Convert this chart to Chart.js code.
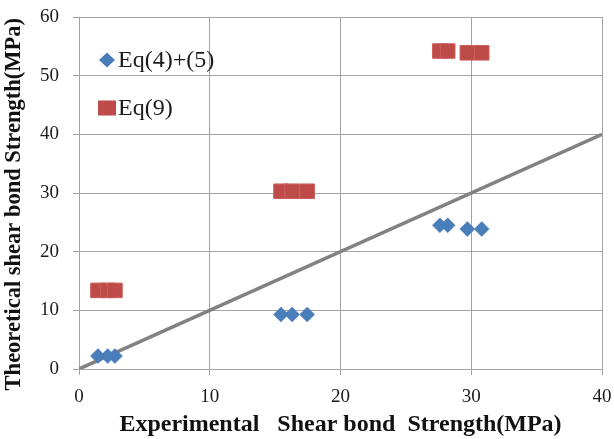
<!DOCTYPE html>
<html>
<head>
    <title>Shear bond strength</title>
    <script src="https://cdn.jsdelivr.net/npm/chart.js"></script>
    <style>
        html, body { margin: 0; padding: 0; background: #fff; }
        #wrap { width: 614px; height: 439px; }
    </style>
</head>
<body>
<div id="wrap"><canvas id="myChart" width="614" height="439"></canvas></div>

<script>
// experimental strength (MPa), same specimens for both equations
var experimental = [1.45, 2.2, 2.75, 15.45, 16.3, 17.45, 27.6, 28.2, 29.7, 30.8];
var eq45 = [2.2, 2.2, 2.2, 9.3, 9.3, 9.3, 24.5, 24.5, 23.85, 23.85];
var eq9 = [13.4, 13.4, 13.4, 30.3, 30.3, 30.3, 54.2, 54.2, 53.9, 53.9];
// y = x reference line
var equalityLine = [0, 40];
var xTicks = [0, 10, 20, 30, 40];
var yTicks = [0, 10, 20, 30, 40, 50, 60];
var seriesNames = ['Eq(4)+(5)', 'Eq(9)'];

var serif = "'Liberation Serif', 'Times New Roman', serif";
var blue = '#4a7ebb';
var red = '#be4b48';
var gridGray = '#a3a3a3';

function pairs(xs, ys) {
    return xs.map(function (x, i) { return { x: x, y: ys[i] }; });
}

// legend drawn inside the plot, top left
var innerLegend = {
    id: 'innerLegend',
    afterDatasetsDraw: function (chart) {
        var ctx = chart.ctx;
        var a = chart.chartArea;
        ctx.save();
        ctx.font = '24px ' + serif;
        ctx.textBaseline = 'middle';
        ctx.textAlign = 'left';

        var x0 = a.left + 28;
        var y1 = a.top + 43;
        var y2 = a.top + 91;

        ctx.fillStyle = blue;
        ctx.beginPath();
        ctx.moveTo(x0 - 8, y1);
        ctx.lineTo(x0, y1 - 7.5);
        ctx.lineTo(x0 + 8, y1);
        ctx.lineTo(x0, y1 + 7.5);
        ctx.closePath();
        ctx.fill();

        ctx.fillStyle = red;
        ctx.fillRect(x0 - 9, y2 - 7.5, 18, 15);

        ctx.fillStyle = '#1a1a1a';
        ctx.fillText(seriesNames[0], x0 + 11, y1 + 1);
        ctx.fillText(seriesNames[1], x0 + 11, y2 + 1);
        ctx.restore();
    }
};

var ctx = document.getElementById('myChart').getContext('2d');
var myChart = new Chart(ctx, {
    type: 'scatter',
    data: {
        datasets: [{
            label: seriesNames[0],
            data: pairs(experimental, eq45),
            pointStyle: 'rectRot',
            pointRadius: 7.5,
            backgroundColor: blue,
            borderColor: blue,
            borderWidth: 0.5,
            order: 0
        }, {
            label: seriesNames[1],
            data: pairs(experimental, eq9),
            pointStyle: 'rect',
            pointRadius: 10.3,
            backgroundColor: red,
            borderColor: '#c9605d',
            borderWidth: 1,
            order: 1
        }, {
            type: 'line',
            label: 'y = x',
            data: pairs(equalityLine, equalityLine),
            borderColor: '#828282',
            borderWidth: 3.5,
            pointRadius: 0,
            fill: false,
            order: 2
        }]
    },
    options: {
        responsive: false,
        animation: false,
        layout: { padding: { top: 17, right: 12, left: 0, bottom: 0 } },
        plugins: {
            legend: { display: false },
            tooltip: { enabled: false }
        },
        scales: {
            x: {
                type: 'linear',
                min: 0,
                max: 40,
                afterBuildTicks: function (s) { s.ticks = xTicks.map(function (v) { return { value: v }; }); },
                afterFit: function (s) {
                    s.height = 70;
                    s.paddingLeft = 0;
                    s.paddingRight = 0;
                },
                grid: { color: gridGray, lineWidth: 1, tickLength: 6, tickColor: gridGray },
                border: { color: gridGray, width: 1 },
                ticks: { color: '#1a1a1a', padding: 11, maxRotation: 0, font: { family: serif, size: 19 } },
                title: {
                    display: true,
                    text: 'Experimental   Shear bond  Strength(MPa)',
                    color: '#111',
                    padding: { top: 0, bottom: 0 },
                    font: { family: serif, size: 24, weight: 'bold' }
                }
            },
            y: {
                type: 'linear',
                min: 0,
                max: 60,
                afterBuildTicks: function (s) { s.ticks = yTicks.map(function (v) { return { value: v }; }); },
                afterFit: function (s) {
                    s.width = 79;
                    s.paddingTop = 0;
                    s.paddingBottom = 0;
                },
                grid: { color: gridGray, lineWidth: 1, tickLength: 6, tickColor: gridGray },
                border: { color: gridGray, width: 1 },
                ticks: { color: '#1a1a1a', padding: 14, font: { family: serif, size: 19 } },
                title: {
                    display: true,
                    // trailing spaces nudge the rotated title a little lower
                    text: 'Theoretical shear bond Strength(MPa)\u2002\u2002',
                    color: '#111',
                    padding: { top: 1, bottom: 0 },
                    font: { family: serif, size: 22.5, weight: 'bold' }
                }
            }
        }
    },
    plugins: [innerLegend]
});
</script>
</body>
</html>
